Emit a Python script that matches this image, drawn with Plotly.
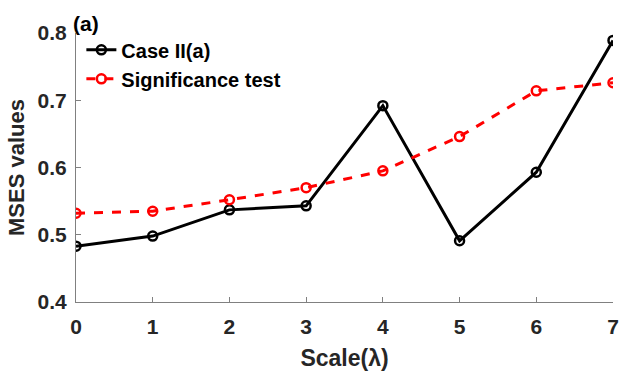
import plotly.graph_objects as go

scales = [0, 1, 2, 3, 4, 5, 6, 7]
case_iia = [0.483, 0.498, 0.537, 0.543, 0.692, 0.491, 0.593, 0.789]
signif = [0.532, 0.535, 0.552, 0.570, 0.595, 0.646, 0.714, 0.726]

fig = go.Figure()
fig.add_trace(go.Scatter(
    x=scales, y=case_iia, mode="lines+markers", name="Case II(a)",
    line=dict(color="black", width=3),
    marker=dict(symbol="circle-open", size=9, color="black", line=dict(width=2.5)),
))
fig.add_trace(go.Scatter(
    x=scales, y=signif, mode="lines+markers", name="Significance test",
    line=dict(color="#ff0000", width=3, dash="dash"),
    marker=dict(symbol="circle-open", size=9, color="#ff0000", line=dict(width=2.5)),
))

font = "Liberation Sans, Arial, sans-serif"
fig.update_layout(
    width=625, height=379,
    margin=dict(l=76, r=6, t=33, b=77),
    paper_bgcolor="white", plot_bgcolor="white",
    font=dict(family=font, size=20, color="#262626"),
    showlegend=True,
    legend=dict(x=0.01, y=1.01, xanchor="left", yanchor="top",
                font=dict(family=font, size=20, color="black", weight="bold"),
                bgcolor="rgba(0,0,0,0)", tracegroupgap=0, itemwidth=30),
    xaxis=dict(range=[0, 7], tickvals=scales, showgrid=False, zeroline=False,
               showline=True, linecolor="#808080", linewidth=1,
               ticks="inside", ticklen=5, tickcolor="#808080",
               ticklabelstandoff=6,
               tickfont=dict(family=font, size=21, color="#262626", weight="bold"),
               title=dict(text="Scale(λ)", font=dict(family=font, size=23, color="#262626", weight="bold"), standoff=12)),
    yaxis=dict(range=[0.4, 0.8], tickvals=[0.4, 0.5, 0.6, 0.7, 0.8], ticktext=["0.4", "0.5", "0.6", "0.7", "0.8"],
               showgrid=False, zeroline=False,
               showline=True, linecolor="#808080", linewidth=1,
               ticks="inside", ticklen=5, tickcolor="#808080",
               ticklabelstandoff=4,
               tickfont=dict(family=font, size=21, color="#262626", weight="bold"),
               title=dict(text="MSES values", font=dict(family=font, size=22, color="#262626", weight="bold"), standoff=6)),
    annotations=[dict(text="(a)", xref="paper", yref="paper", x=-0.01, y=1.0, xanchor="left", yanchor="bottom",
                      yshift=-4, showarrow=False, font=dict(family=font, size=21, color="black", weight="bold"))],
)
fig.write_html("out.html")
